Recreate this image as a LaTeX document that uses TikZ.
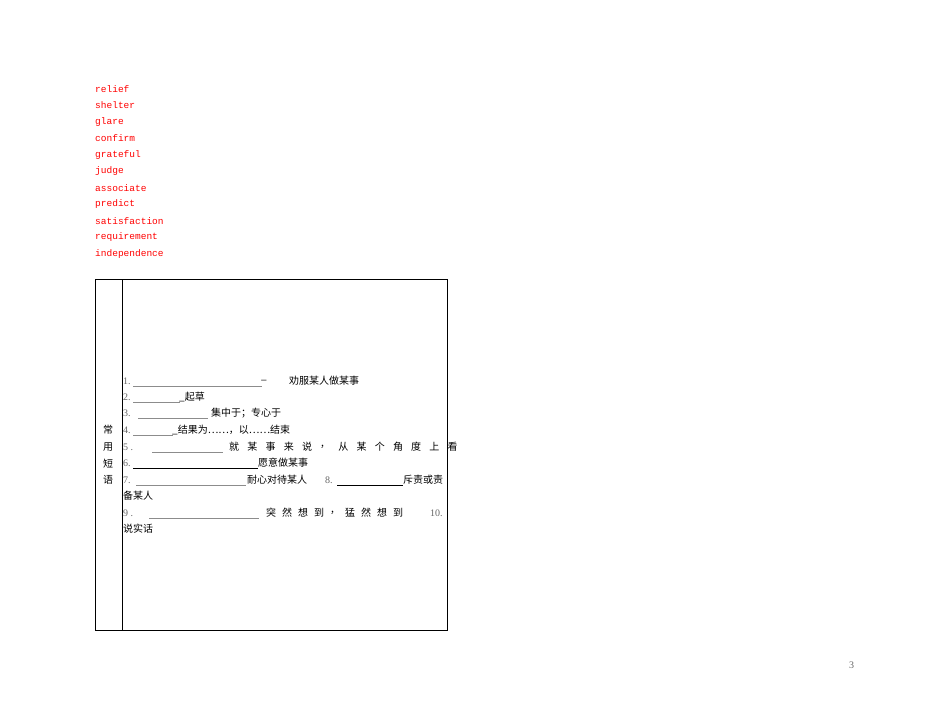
\documentclass[tikz,border=0pt]{standalone}
\usepackage{fontspec}
\setmainfont{Liberation Serif}
\newfontfamily\cjk{Noto Sans CJK SC}
\newfontfamily\mono{Liberation Mono}
\begin{document}
\begin{tikzpicture}[x=1pt,y=-1pt,
  word/.style={anchor=west,inner sep=0pt,text=red,font=\mono\fontsize{9.5}{10}\selectfont},
  txt/.style={anchor=west,inner sep=0pt,font=\cjk\fontsize{10}{11}\selectfont},
  num/.style={anchor=west,inner sep=0pt,font=\fontsize{10}{11}\selectfont,text=black!60},
  gl/.style={draw=black!45,line width=0.5pt},
  bl/.style={draw=black,line width=0.7pt}]
\useasboundingbox (0,0) rectangle (950,722);
\foreach \w [count=\i] in {relief,shelter,glare,confirm,grateful,judge,associate,predict,satisfaction,requirement,independence}
  \node[word] (w\i) at (95,{89+16.5*(\i-1)}) {\w};
\draw[line width=0.8pt] (95,279) rectangle (447,630);
\draw[line width=0.8pt] (122,279) -- (122,630);
\foreach \c [count=\i] in {常,用,短,语}
  \node[txt,anchor=center] (l\i) at (108,{430+16.6*(\i-1)}) {\c};
% row 1
\node[num] (n1) at (123,381) {1.};
\draw[gl] (133,386) -- (262,386);
\node[txt] at (261,380) {\_};
\node[txt] (t1) at (289,381) {劝服某人做某事};
% row 2
\node[num] (n2) at (123,397) {2.};
\draw[gl] (133,402) -- (180,402);
\node[txt] (t2) at (179,397) {\_起草};
% row 3
\node[num] (n3) at (123,413) {3.};
\draw[gl] (138,418) -- (208,418);
\node[txt] (t3) at (211,413) {集中于；专心于};
% row 4
\node[num] (n4) at (123,430) {4.};
\draw[gl] (133,435) -- (173,435);
\node[txt] (t4) at (172,430) {\_结果为……，以……结束};
% row 5
\node[num] (n5) at (123,447) {5 .};
\draw[gl] (152,452) -- (223,452);
\foreach \c [count=\i] in {就,某,事,来,说,，,从,某,个,角,度,上,看}
  \node[txt] at ({229+18.2*(\i-1)},447) {\c};
% row 6
\node[num] (n6) at (123,463) {6.};
\draw[bl] (133,468) -- (258,468);
\node[txt] (t6) at (258,463) {愿意做某事};
% row 7
\node[num] (n7) at (123,480) {7.};
\draw[gl] (136,485) -- (246,485);
\node[txt] (t7) at (247,480) {耐心对待某人};
\node[num] (n8) at (325,480) {8.};
\draw[bl] (337,485) -- (403,485);
\node[txt] (t8) at (403,480) {斥责或责};
\node[txt] (t8b) at (123,496) {备某人};
% row 9
\node[num] (n9) at (123,513) {9 .};
\draw[gl] (149,518) -- (259,518);
\foreach \c [count=\i] in {突,然,想,到,，}
  \node[txt] at ({266+16*(\i-1)},513) {\c};
\foreach \c [count=\i] in {猛,然,想,到}
  \node[txt] at ({345+16*(\i-1)},513) {\c};
\node[num] (n10) at (430,513) {10.};
\node[txt] (t10) at (123,529) {说实话};
\node[num] (pg) at (849,665) {3};
\end{tikzpicture}
\end{document}
